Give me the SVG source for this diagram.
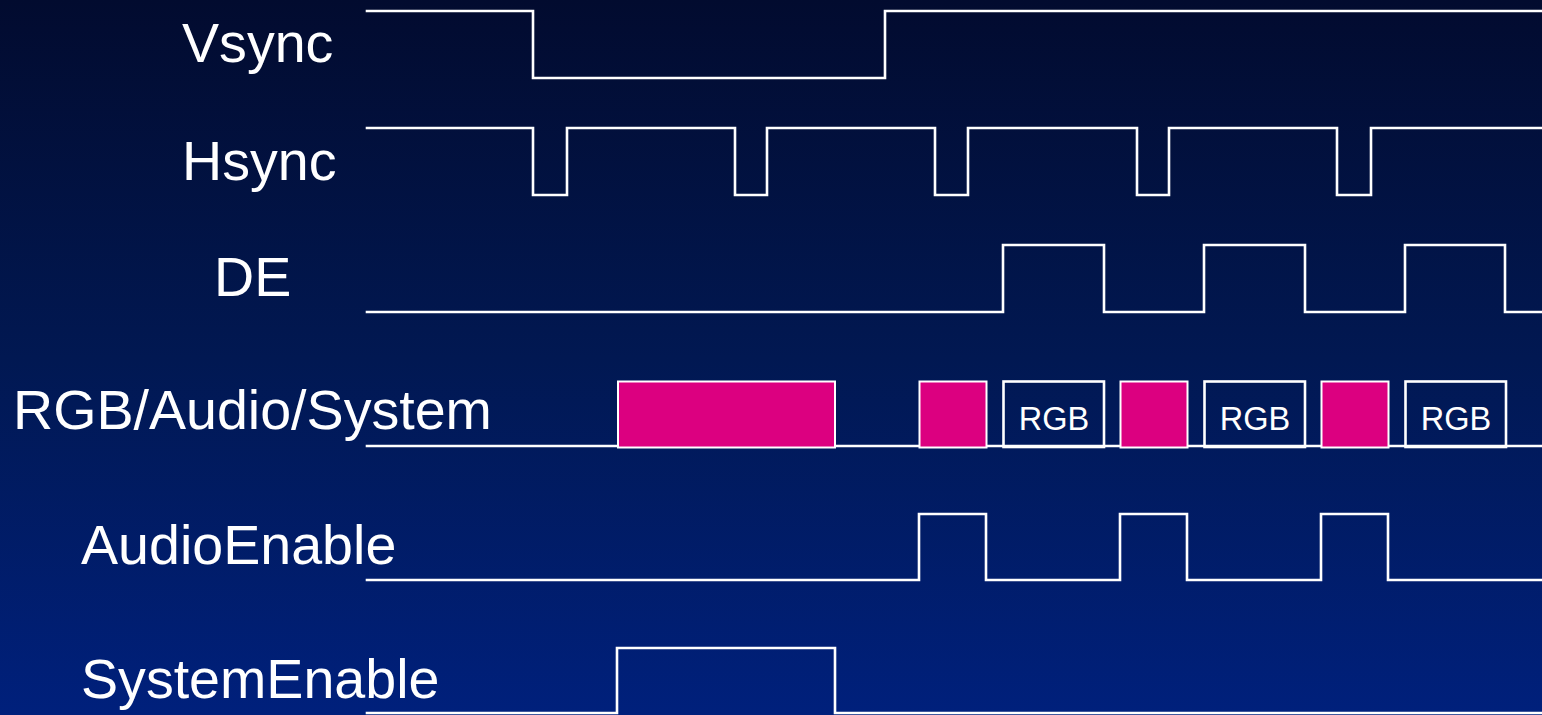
<svg xmlns="http://www.w3.org/2000/svg" width="1542" height="715" viewBox="0 0 1542 715">
<defs>
<linearGradient id="bg" x1="0" y1="0" x2="0" y2="1">
<stop offset="0" stop-color="#020b2f"/>
<stop offset="0.5" stop-color="#011852"/>
<stop offset="1" stop-color="#00207c"/>
</linearGradient>
</defs>
<style>
.w{fill:none;stroke:#ffffff;stroke-width:2.6;stroke-linejoin:miter;stroke-linecap:square}
.lbl{font-family:"Liberation Sans",Arial,sans-serif;font-size:55.6px;fill:#ffffff}
.pk{fill:#dc0080;stroke:#ffffff;stroke-width:2}
.rb{fill:none;stroke:#ffffff;stroke-width:2.6}
.rt{font-family:"Liberation Sans",Arial,sans-serif;font-size:32.5px;fill:#ffffff;text-anchor:middle}
</style>
<rect x="0" y="0" width="1542" height="715" fill="url(#bg)"/>
<g id="labels">
<text class="lbl" x="182" y="62">Vsync</text>
<text class="lbl" x="182" y="180">Hsync</text>
<text class="lbl" x="214" y="296">DE</text>
<text class="lbl" x="13" y="429">RGB/Audio/System</text>
<text class="lbl" x="81" y="564">AudioEnable</text>
<text class="lbl" x="81" y="698">SystemEnable</text>
</g>
<g id="connectors">
<polyline id="vsync" class="w" points="367,11 533,11 533,78 885,78 885,11 1542,11"/>
<polyline id="hsync" class="w" points="367,128 533,128 533,195 567,195 567,128 735,128 735,195 767,195 767,128 935,128 935,195 968,195 968,128 1137,128 1137,195 1169,195 1169,128 1337,128 1337,195 1371,195 1371,128 1542,128"/>
<polyline id="de" class="w" points="367,312 1003,312 1003,245 1104,245 1104,312 1204,312 1204,245 1305,245 1305,312 1405,312 1405,245 1505,245 1505,312 1542,312"/>
<line id="rgb-base" class="w" x1="367" y1="446" x2="1542" y2="446"/>
<polyline id="audioen" class="w" points="367,580 919,580 919,514 986,514 986,580 1120,580 1120,514 1187,514 1187,580 1321,580 1321,514 1388,514 1388,580 1542,580"/>
<polyline id="systemen" class="w" points="367,713 617,713 617,648 835,648 835,713 1542,713"/>
</g>
<g id="system-block"><rect class="pk" x="618" y="381.5" width="217" height="66"/></g>
<g id="audio1"><rect class="pk" x="919.5" y="381.5" width="67" height="66"/></g>
<g id="rgb1"><rect class="rb" x="1003.5" y="381.5" width="100.5" height="65.5"/><text class="rt" x="1054" y="430">RGB</text></g>
<g id="audio2"><rect class="pk" x="1120.5" y="381.5" width="67" height="66"/></g>
<g id="rgb2"><rect class="rb" x="1204.5" y="381.5" width="100.5" height="65.5"/><text class="rt" x="1255" y="430">RGB</text></g>
<g id="audio3"><rect class="pk" x="1321.5" y="381.5" width="67" height="66"/></g>
<g id="rgb3"><rect class="rb" x="1405.5" y="381.5" width="100.5" height="65.5"/><text class="rt" x="1456" y="430">RGB</text></g>
</svg>
